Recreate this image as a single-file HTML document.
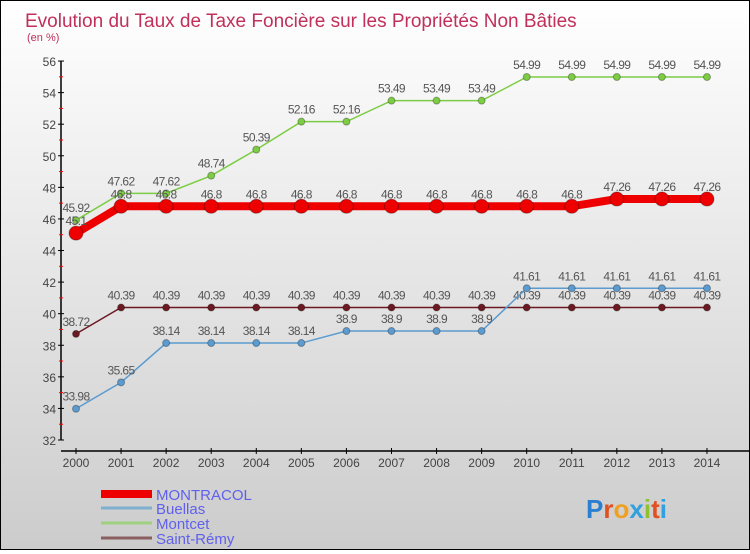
<!DOCTYPE html>
<html><head><meta charset="utf-8"><style>
body{margin:0}
#c{width:748px;height:548px;border:1px solid #000;background:linear-gradient(#fff,#ccc);position:relative;font-family:"Liberation Sans",sans-serif}
</style></head><body>
<div id="c">
<svg id="s" width="748" height="548"></svg>
</div>
<script>
const years=[2000,2001,2002,2003,2004,2005,2006,2007,2008,2009,2010,2011,2012,2013,2014];
const montracol=[45.1,46.8,46.8,46.8,46.8,46.8,46.8,46.8,46.8,46.8,46.8,46.8,47.26,47.26,47.26];
const buellas=[33.98,35.65,38.14,38.14,38.14,38.14,38.9,38.9,38.9,38.9,41.61,41.61,41.61,41.61,41.61];
const montcet=[45.92,47.62,47.62,48.74,50.39,52.16,52.16,53.49,53.49,53.49,54.99,54.99,54.99,54.99,54.99];
const stremy=[38.72,40.39,40.39,40.39,40.39,40.39,40.39,40.39,40.39,40.39,40.39,40.39,40.39,40.39,40.39];
const yTicks=[32,34,36,38,40,42,44,46,48,50,52,54,56];
const ns="http://www.w3.org/2000/svg",s=document.getElementById('s');
function X(i){return 75+i*45.07}
function Y(v){return 439-(v-32)*15.79}
function el(t,a,p){const e=document.createElementNS(ns,t);for(const k in a)e.setAttribute(k,a[k]);(p||s).appendChild(e);return e}
function tx(x,y,str,a,p){const e=el('text',Object.assign({x:x,y:y},a),p);e.textContent=str;return e}
let t=tx(24,26,'Evolution du Taux de Taxe Foncière sur les Propriétés Non Bâties',{fill:'#c0305a','font-size':19});

t=tx(26,40,'(en %)',{fill:'#c0305a','font-size':11});

let ax=el('line',{x1:60,y1:Y(56),x2:60,y2:Y(32),stroke:'#000','stroke-width':1.5});

yTicks.forEach((v,i)=>{el('line',{x1:57,x2:63,y1:Y(v),y2:Y(v),stroke:'#000'});
 if(i<yTicks.length-1)el('line',{x1:58,x2:62,y1:Y(v+1),y2:Y(v+1),stroke:'#f00'});
 const l=tx(55,Y(v)+5,v,{fill:'#444','font-size':12,'text-anchor':'end'});
 });
ax=el('line',{x1:60,y1:450,x2:748,y2:450,stroke:'#000','stroke-width':1.5});

years.forEach((y,i)=>{el('line',{x1:X(i),x2:X(i),y1:447,y2:453,stroke:'#000'});
 const l=tx(X(i),466,y,{fill:'#444','font-size':12,'text-anchor':'middle'});
 });
function series(d,col,w,r,name){
 const g=el('g',{});
 el('polyline',{points:d.map((v,i)=>X(i)+','+Y(v)).join(' '),fill:'none',stroke:col,'stroke-width':w},g);
 d.forEach((v,i)=>{const c=el('circle',{cx:X(i),cy:Y(v),r:r,fill:col,stroke:'rgba(0,0,0,0.3)'},g);
  
  tx(X(i),Y(v)-8,String(v),{fill:'#555','font-size':12,'text-anchor':'middle','letter-spacing':'-0.6'},g);});
}
series(stremy,'#6b1a22',1.5,3.5,'saint-remy');
series(buellas,'#5b9bd0',1.5,3.5,'buellas');
series(montcet,'#7ccc44',1.5,3.5,'montcet');
series(montracol,'#ee0000',8,7,'montracol');
const leg=[['MONTRACOL','#ee0000',8,494],['Buellas','#80b0d0',3,508],['Montcet','#9fd080',3,523],['Saint-Rémy','#8a6060',3,538]];
leg.forEach(l=>{const g=el('g',{});
 el('line',{x1:100,x2:151,y1:l[3]-1,y2:l[3]-1,stroke:l[1],'stroke-width':l[2]},g);
 tx(155,l[3]+5,l[0],{fill:'#6060ee','font-size':15},g);});
const lg=el('text',{x:585,y:517,'font-size':26,'font-weight':'bold'});

const cols=['#2a7fd0','#e05020','#f0a020','#30a0e0','#90c030','#e05020','#30a0e0'];
'Proxiti'.split('').forEach((ch,i)=>{const sp=el('tspan',{fill:cols[i]},lg);sp.textContent=ch;});
</script>
</body></html>
